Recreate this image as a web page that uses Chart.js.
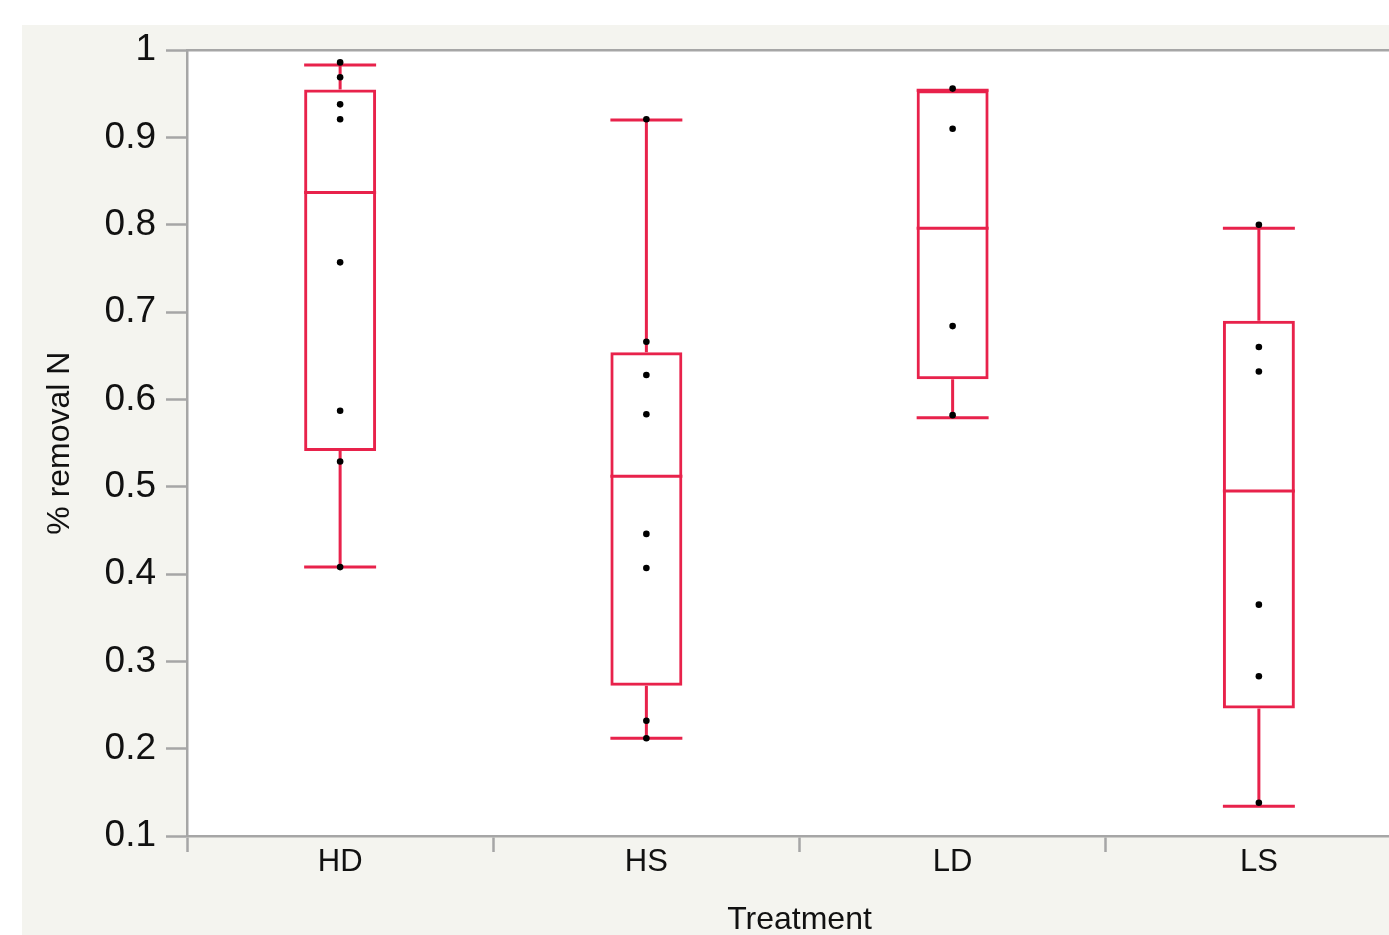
<!DOCTYPE html>
<html>
<head>
<meta charset="utf-8">
<script src="https://cdn.jsdelivr.net/npm/chart.js@4/dist/chart.umd.min.js"></script>
<style>
  html, body { margin: 0; padding: 0; background: #fff; overflow: hidden; }
  #frame { position: absolute; left: 22px; top: 25px; width: 1398px; height: 910px; background: #f4f4ef; overflow: hidden; }
  #inner { position: absolute; left: 0; top: -7px; width: 1398px; height: 921px; }
</style>
</head>
<body>
<div id="frame"><div id="inner"><canvas id="boxChart"></canvas></div></div>
<script>
// values
const categories = ['HD', 'HS', 'LD', 'LS'];
const whiskerLow = [0.408, 0.212, 0.579, 0.134];
const q1 = [0.541, 0.272, 0.623, 0.246];
const median = [0.837, 0.512, 0.796, 0.495];
const q3 = [0.955, 0.654, 0.954, 0.690];
const whiskerHigh = [0.983, 0.920, 0.954, 0.796];

const pointsHD = [0.986, 0.969, 0.938, 0.921, 0.757, 0.587, 0.529, 0.408];
const pointsHS = [0.921, 0.666, 0.628, 0.583, 0.446, 0.407, 0.232, 0.212];
const pointsLD = [0.956, 0.910, 0.684, 0.582];
const pointsLS = [0.800, 0.660, 0.632, 0.365, 0.283, 0.138];

const yTicks = [0.1, 0.2, 0.3, 0.4, 0.5, 0.6, 0.7, 0.8, 0.9, 1];

const red = '#e8224b';
const axisGray = '#a6a6a6';
const font = "'Liberation Sans', Arial, Helvetica, sans-serif";

const points = [];
[pointsHD, pointsHS, pointsLD, pointsLS].forEach((list, i) => {
    list.forEach(v => points.push({ x: categories[i], y: v }));
});

// white plot area + top border line
const plotBackground = {
    id: 'plotBackground',
    beforeDraw(chart) {
        const { ctx, chartArea: a } = chart;
        ctx.save();
        ctx.fillStyle = '#ffffff';
        ctx.fillRect(a.left, a.top, a.right - a.left, a.bottom - a.top);
        ctx.restore();
    },
    afterDraw(chart) {
        const { ctx, chartArea: a } = chart;
        ctx.save();
        ctx.strokeStyle = axisGray;
        ctx.lineWidth = 2.5;
        ctx.beginPath();
        ctx.moveTo(a.left, a.top);
        ctx.lineTo(a.right, a.top);
        ctx.stroke();
        ctx.restore();
    }
};

// medians, whiskers and caps, drawn right after the boxes
const boxExtras = {
    id: 'boxExtras',
    afterDatasetDraw(chart, args) {
        if (args.index !== 0) return;
        const { ctx, scales: { x, y } } = chart;
        const meta = chart.getDatasetMeta(0);
        ctx.save();
        ctx.strokeStyle = red;
        ctx.lineWidth = 3;
        categories.forEach((c, i) => {
            const bar = meta.data[i];
            const cx = x.getPixelForValue(i);
            const half = bar.width / 2;
            ctx.beginPath();
            ctx.moveTo(cx - half, y.getPixelForValue(median[i]));
            ctx.lineTo(cx + half, y.getPixelForValue(median[i]));
            // upper whisker
            ctx.moveTo(cx, y.getPixelForValue(q3[i]));
            ctx.lineTo(cx, y.getPixelForValue(whiskerHigh[i]));
            ctx.moveTo(cx - half, y.getPixelForValue(whiskerHigh[i]));
            ctx.lineTo(cx + half, y.getPixelForValue(whiskerHigh[i]));
            // lower whisker
            ctx.moveTo(cx, y.getPixelForValue(q1[i]));
            ctx.lineTo(cx, y.getPixelForValue(whiskerLow[i]));
            ctx.moveTo(cx - half, y.getPixelForValue(whiskerLow[i]));
            ctx.lineTo(cx + half, y.getPixelForValue(whiskerLow[i]));
            ctx.stroke();
        });
        ctx.restore();
    }
};

new Chart(document.getElementById('boxChart'), {
    data: {
        labels: categories,
        datasets: [{
            type: 'bar',
            data: categories.map((c, i) => [q1[i], q3[i]]),
            backgroundColor: 'rgba(255,255,255,0)',
            borderColor: red,
            borderWidth: 3,
            borderSkipped: false,
            barPercentage: 0.235,
            categoryPercentage: 1,
            order: 1
        }, {
            type: 'scatter',
            data: points,
            pointRadius: 3.3,
            pointBackgroundColor: '#000',
            pointBorderWidth: 0,
            showLine: false,
            order: 0
        }]
    },
    options: {
        responsive: true,
        maintainAspectRatio: false,
        animation: false,
        layout: { padding: { top: 18, right: 8, left: 0, bottom: 0 } },
        plugins: {
            legend: { display: false },
            tooltip: { enabled: false }
        },
        scales: {
            x: {
                type: 'category',
                labels: categories,
                offset: true,
                afterFit: s => { s.height = 103; },
                grid: {
                    offset: true,
                    drawOnChartArea: false,
                    tickLength: 16,
                    tickWidth: 2.5,
                    tickColor: axisGray
                },
                border: { color: axisGray, width: 2.5 },
                ticks: {
                    color: '#111',
                    padding: -8,
                    font: { family: font, size: 31 }
                },
                title: {
                    display: true,
                    text: 'Treatment',
                    color: '#111',
                    padding: 0,
                    font: { family: font, size: 32 }
                }
            },
            y: {
                min: 0.1,
                max: 1,
                afterFit: s => { s.width = 165; },
                afterBuildTicks: s => { s.ticks = yTicks.map(v => ({ value: v })); },
                grid: {
                    drawOnChartArea: false,
                    tickLength: 21,
                    tickWidth: 2.5,
                    tickColor: axisGray
                },
                border: { color: axisGray, width: 2.5 },
                ticks: {
                    color: '#111',
                    padding: 10,
                    font: { family: font, size: 37 },
                    callback: v => String(+v.toFixed(1))
                },
                title: {
                    display: true,
                    text: '% removal N',
                    color: '#111',
                    padding: { top: 19 },
                    font: { family: font, size: 32 }
                }
            }
        }
    },
    plugins: [plotBackground, boxExtras]
});
</script>
</body>
</html>
